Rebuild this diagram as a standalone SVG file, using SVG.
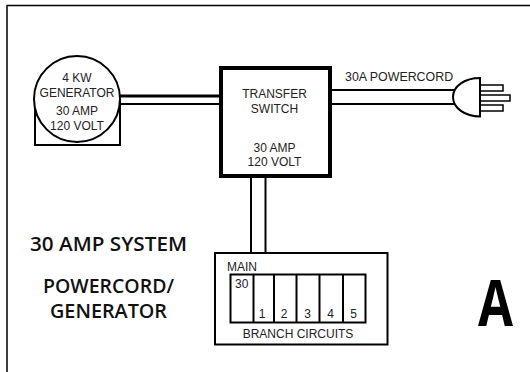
<svg xmlns="http://www.w3.org/2000/svg" width="530" height="372" viewBox="0 0 530 372">
<style>
.t{font-family:"Liberation Sans",Arial,sans-serif;font-size:12px;fill:#222}
.m{text-anchor:middle}
.h{font-family:"Open Sans","Liberation Sans",sans-serif;font-size:20px;font-weight:600;fill:#111}
.s{fill:#fff;stroke:#000;stroke-width:2}
.p{fill:#fff;stroke:#000;stroke-width:1.500}
.l{fill:none;stroke:#000;stroke-width:2}
</style>
<rect width="530" height="372" fill="#fff"/>
<path id="frame" d="M7 372V5.500H530" fill="none" stroke="#000" stroke-width="1.500"/>
<g id="connectors">
<path class="l" d="M120 96H222" style="stroke-width:3"/>
<path class="l" d="M120 104H222"/>
<path class="l" d="M330 90H455M330 104H455"/>
<path class="l" d="M251 175V253M265.500 175V253"/>
</g>
<g id="generator">
<rect class="s" x="35" y="100" width="85" height="45"/>
<circle class="s" cx="77" cy="99" r="43"/>
<text class="t m" x="77" y="82">4 KW</text>
<text class="t m" x="77" y="97">GENERATOR</text>
<text class="t m" x="77" y="115">30 AMP</text>
<text class="t m" x="77" y="129.500">120 VOLT</text>
</g>
<g id="switch">
<rect x="221" y="68" width="109" height="108" fill="#fff" stroke="#000" stroke-width="4"/>
<text class="t m" x="274.500" y="98">TRANSFER</text>
<text class="t m" x="274.500" y="112.500">SWITCH</text>
<text class="t m" x="274.500" y="152">30 AMP</text>
<text class="t m" x="274.500" y="166">120 VOLT</text>
</g>
<g id="plug">
<text class="t" x="345" y="81" style="font-size:12.400px">30A POWERCORD</text>
<rect class="p" x="480" y="85" width="23" height="6"/>
<rect class="p" x="480" y="95" width="30" height="6"/>
<rect class="p" x="480" y="105" width="23" height="6"/>
<path class="s" d="M480 78V116.500C465 116.500 453 108 453 97C453 86 465 78 480 78Z"/>
</g>
<g id="panel">
<rect class="s" x="215" y="253" width="172.500" height="91.500"/>
<text class="t" x="227" y="270.500">MAIN</text>
<rect class="s" x="230.500" y="274.500" width="135" height="48"/>
<path class="l" d="M253.500 274V323M274 274V323M296.500 274V323M319.500 274V323M343 274V323"/>
<text class="t" x="235" y="288">30</text>
<text class="t m" x="262" y="318">1</text>
<text class="t m" x="284" y="318">2</text>
<text class="t m" x="307.500" y="318">3</text>
<text class="t m" x="330.500" y="318">4</text>
<text class="t m" x="353.500" y="318">5</text>
<text class="t m" x="298" y="337.500">BRANCH CIRCUITS</text>
</g>
<g id="labels">
<text class="h" x="30" y="251" textLength="157" lengthAdjust="spacingAndGlyphs">30 AMP SYSTEM</text>
<text class="h" x="43" y="293" textLength="131" lengthAdjust="spacingAndGlyphs">POWERCORD/</text>
<text class="h" x="50" y="318" textLength="117" lengthAdjust="spacingAndGlyphs">GENERATOR</text>
<text x="478" y="326" textLength="35" lengthAdjust="spacingAndGlyphs" style="font-family:'Open Sans','Liberation Sans',sans-serif;font-size:64px;font-weight:700;fill:#000">A</text>
</g>
</svg>
